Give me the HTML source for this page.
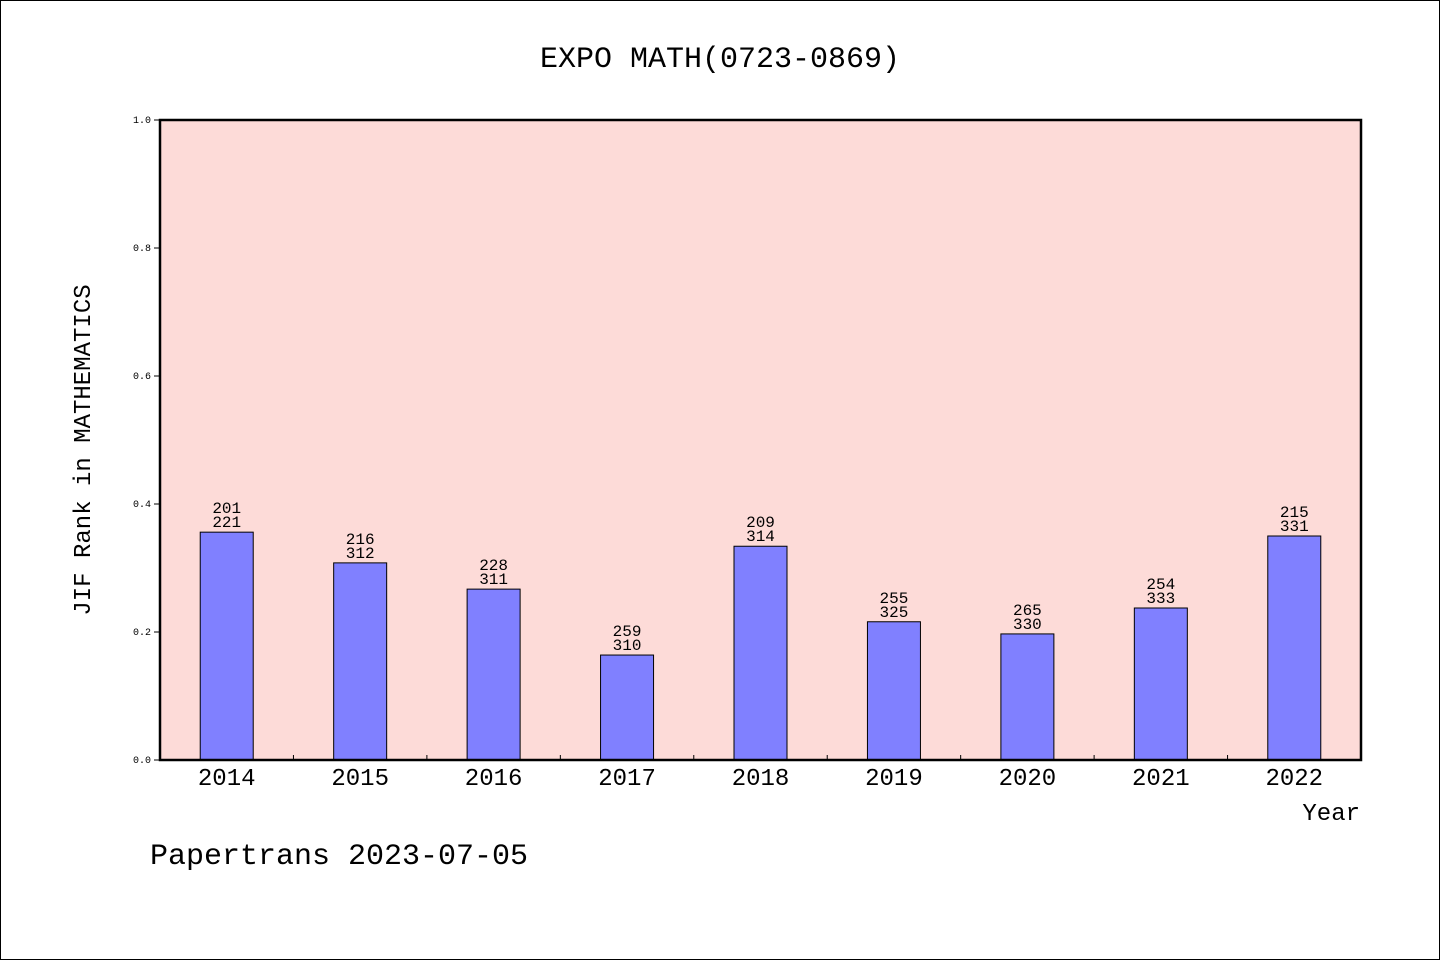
<!DOCTYPE html>
<html><head><meta charset="utf-8"><style>
html,body{margin:0;padding:0;background:#fff}
svg{display:block}
text{font-family:"WenQuanYi Zen Hei","Liberation Mono",monospace;fill:#000}
</style></head><body>
<svg width="1440" height="960" viewBox="0 0 1440 960">
<rect x="0.5" y="0.5" width="1439" height="959" fill="#fff" stroke="#000"/>
<text x="720" y="67" font-size="30" text-anchor="middle">EXPO MATH(0723-0869)</text>
<rect x="160" y="120" width="1201" height="640" fill="#fddbd8"/>
<g id="bars"></g>
<g id="yaxis"></g>
<g id="xaxis"></g>
<rect x="160" y="120" width="1201" height="640" fill="none" stroke="#000" stroke-width="2.5"/>
<text x="1360" y="820" font-size="24" text-anchor="end">Year</text>
<text transform="translate(90,450) rotate(-90)" font-size="24" text-anchor="middle">JIF Rank in MATHEMATICS</text>
<text x="150" y="864" font-size="30">Papertrans 2023-07-05</text>
</svg>
<script>
const years=["2014","2015","2016","2017","2018","2019","2020","2021","2022"];
const values=[0.356,0.308,0.267,0.164,0.334,0.216,0.197,0.2375,0.35];
const ranks=["201","216","228","259","209","255","265","254","215"];
const totals=["221","312","311","310","314","325","330","333","331"];
const yTicks=[0,0.2,0.4,0.6,0.8,1.0];
const yTickLabels=["0.0","0.2","0.4","0.6","0.8","1.0"];
const NS="http://www.w3.org/2000/svg";
const X0=160,X1=1361,Y0=760,Y1=120;
const step=(X1-X0)/years.length;
const xc=i=>X0+step*(i+0.5);
const y=v=>Y0-(Y0-Y1)*v;
function mk(t,a,p){const e=document.createElementNS(NS,t);for(const k in a)e.setAttribute(k,a[k]);p.appendChild(e);return e;}
const gb=document.getElementById('bars'),gy=document.getElementById('yaxis'),gx=document.getElementById('xaxis');
const bw=53;
values.forEach((v,i)=>{
 const r=mk('rect',{x:xc(i)-bw/2,y:y(v),width:bw,height:Y0-y(v),fill:'#8080ff',stroke:'#000','stroke-width':1},gb);
 
 
 const t1=mk('text',{x:xc(i),y:y(v)-19,'font-size':16,'text-anchor':'middle'},gb);t1.textContent=ranks[i];
 
 
 const t2=mk('text',{x:xc(i),y:y(v)-5,'font-size':16,'text-anchor':'middle'},gb);t2.textContent=totals[i];
 
 
 const xl=mk('text',{x:xc(i),y:785,'font-size':24,'text-anchor':'middle'},gx);xl.textContent=years[i];
 
 
});
for(let i=1;i<years.length;i++){
 const l=mk('line',{x1:X0+step*i,x2:X0+step*i,y1:Y0,y2:Y0-5,stroke:'#000'},gx);
 
 
}
yTicks.forEach((v,i)=>{
 const l=mk('line',{x1:X0-6,x2:X0,y1:y(v),y2:y(v),stroke:'#000'},gy);
 
 
 const t=mk('text',{x:X0-9,y:y(v)+3,'font-size':10,'text-anchor':'end'},gy);t.textContent=yTickLabels[i];
 
 
});
</script>
</body></html>
